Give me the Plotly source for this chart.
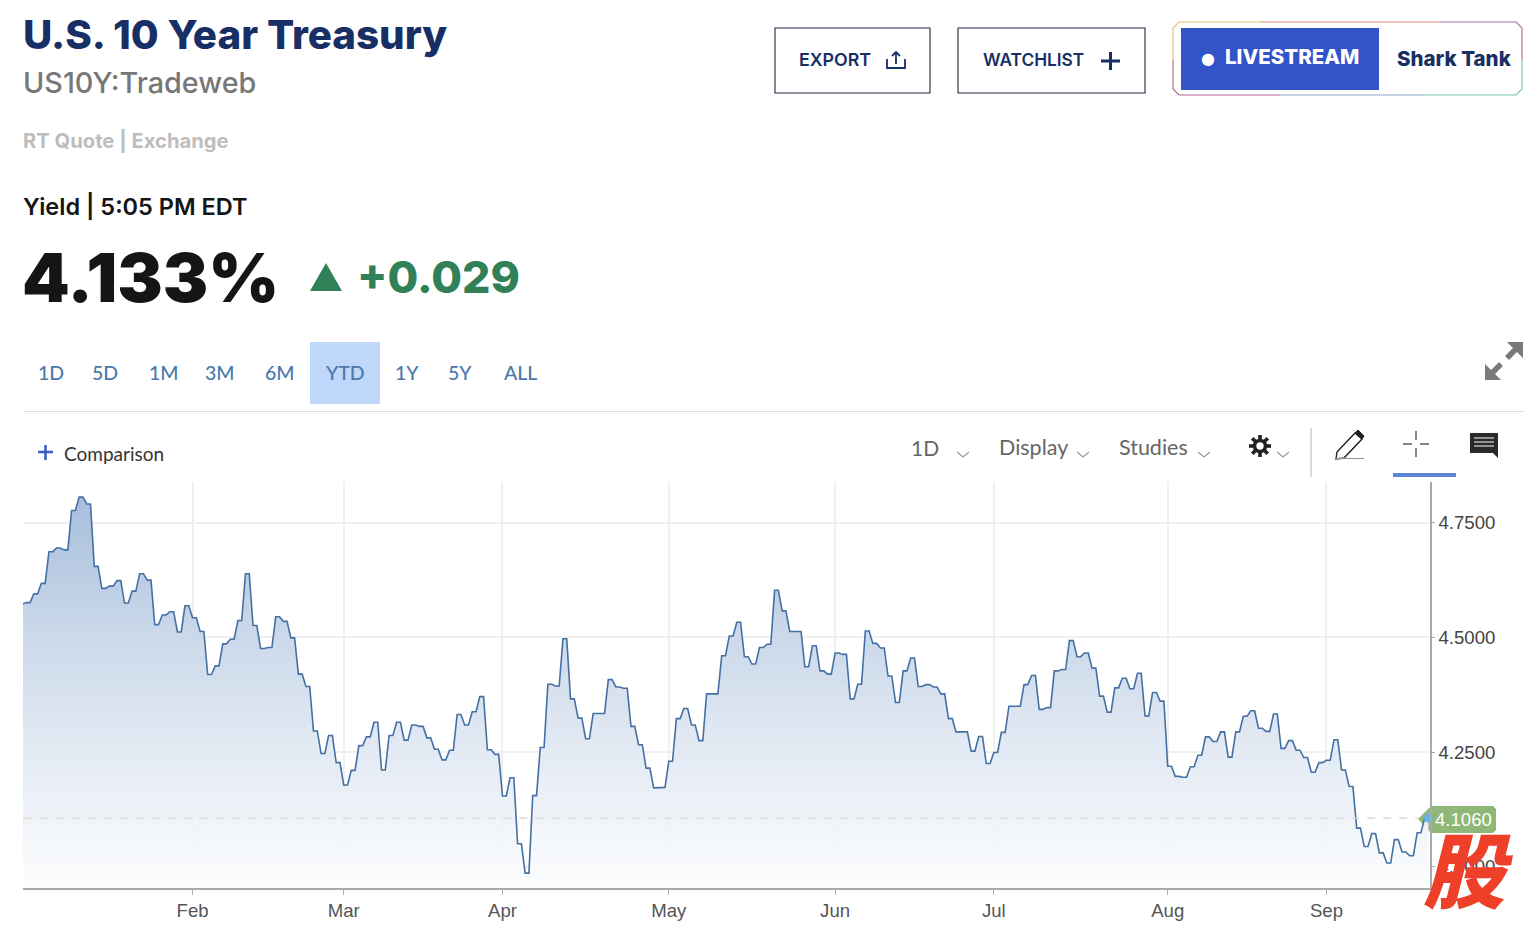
import numpy as np
import plotly.graph_objects as go

W = 1535
H = 928

# daily closes, one per session starting in early January
yield_values = [
    4.573, 4.576, 4.595, 4.618, 4.687, 4.695, 4.691, 4.777, 4.806, 4.791,
    4.655, 4.607, 4.612, 4.624, 4.575, 4.601, 4.639, 4.625, 4.528, 4.549,
    4.556, 4.512, 4.569, 4.543, 4.513, 4.419, 4.438, 4.486, 4.496, 4.537,
    4.639, 4.526, 4.476, 4.478, 4.545, 4.535, 4.499, 4.420, 4.393, 4.296,
    4.247, 4.286, 4.227, 4.178, 4.210, 4.264, 4.283, 4.315, 4.211, 4.286,
    4.315, 4.276, 4.309, 4.306, 4.281, 4.256, 4.233, 4.254, 4.332, 4.309,
    4.338, 4.371, 4.255, 4.245, 4.154, 4.194, 4.050, 3.986, 4.155, 4.260,
    4.398, 4.394, 4.497, 4.366, 4.324, 4.279, 4.334, 4.334, 4.408, 4.392,
    4.389, 4.306, 4.266, 4.215, 4.172, 4.173, 4.230, 4.323, 4.345, 4.309,
    4.275, 4.377, 4.377, 4.460, 4.503, 4.533, 4.458, 4.442, 4.478, 4.485,
    4.603, 4.558, 4.513, 4.513, 4.436, 4.482, 4.427, 4.420, 4.466, 4.463,
    4.366, 4.398, 4.514, 4.487, 4.477, 4.416, 4.358, 4.427, 4.455, 4.393,
    4.397, 4.392, 4.377, 4.323, 4.294, 4.294, 4.252, 4.284, 4.225, 4.249,
    4.293, 4.350, 4.350, 4.397, 4.417, 4.343, 4.347, 4.427, 4.430, 4.493,
    4.458, 4.466, 4.433, 4.372, 4.337, 4.390, 4.411, 4.388, 4.422, 4.329,
    4.380, 4.361, 4.219, 4.197, 4.195, 4.218, 4.243, 4.283, 4.273, 4.294,
    4.239, 4.294, 4.328, 4.340, 4.302, 4.295, 4.333, 4.258, 4.275, 4.254,
    4.238, 4.206, 4.227, 4.232, 4.277, 4.211, 4.175, 4.084, 4.044, 4.072,
    4.030, 4.008, 4.059, 4.032, 4.024, 4.074, 4.106,
]
month_labels = ["Feb", "Mar", "Apr", "May", "Jun", "Jul", "Aug", "Sep"]
month_sessions = [23, 43, 64, 86, 108, 129, 152, 173]
yield_ticks = [4.0, 4.25, 4.5, 4.75]
last_label = "4.1060"
range_tabs = ["1D", "5D", "1M", "3M", "6M", "YTD", "1Y", "5Y", "ALL"]

SANS = "Lato"
HEAD = "Inter"
NAVY = "#182f66"
GREEN = "#318058"


def fx(x):
    return x / W


def fy(y):
    return 1 - y / H


def note(x, y, text, size, color, weight=400, family=SANS, anchor="left", style="normal"):
    return dict(x=fx(x), y=fy(y), xref="paper", yref="paper", text=text, showarrow=False,
                xanchor=anchor, yanchor="middle", borderpad=0,
                font=dict(size=size, color=color, family=family, weight=weight, style=style))


def rect(x0, y0, x1, y1, line=None, fill=None, width=1.1):
    return dict(type="rect", xref="paper", yref="paper", x0=fx(x0), x1=fx(x1), y0=fy(y0), y1=fy(y1),
                line=dict(color=line or "rgba(0,0,0,0)", width=width if line else 0), fillcolor=fill)


def path(points, color=None, width=1.5, fill=None, closed=False):
    d = "M " + " L ".join(f"{fx(x):.5f},{fy(y):.5f}" for x, y in points)
    if closed:
        d += " Z"
    return dict(type="path", xref="paper", yref="paper", path=d,
                line=dict(color=color or "rgba(0,0,0,0)", width=width if color else 0), fillcolor=fill)


def chevron(x, y):
    return path([(x, y), (x + 6, y + 5), (x + 12, y)], "#999999", 1.1)


def gear(cx, cy):
    # settings icon: ring plus eight teeth
    parts = []
    for a in np.arange(8) * np.pi / 4:
        parts.append(path([(cx + 6 * np.cos(a), cy + 6 * np.sin(a)),
                           (cx + 11 * np.cos(a), cy + 11 * np.sin(a))], "#222222", 3.6))
    parts.append(dict(type="circle", xref="paper", yref="paper", x0=fx(cx - 5.5), x1=fx(cx + 5.5),
                      y0=fy(cy + 5.5), y1=fy(cy - 5.5), line=dict(color="#222222", width=3.6),
                      fillcolor="#ffffff"))
    return parts


# each session is drawn with a short flat run, like the source chart
sessions = np.arange(len(yield_values))
line_x = np.repeat(sessions, 2) + np.tile([0, 0.5], len(sessions))
line_y = np.repeat(yield_values, 2)

fig = go.Figure()
fig.add_trace(go.Scatter(x=line_x, y=np.full(len(line_x), 3.9535), mode="lines",
                         line=dict(width=0), hoverinfo="skip", showlegend=False))
fig.add_trace(go.Scatter(
    x=line_x, y=line_y, mode="lines", fill="tonexty", showlegend=False,
    line=dict(color="#4470a3", width=1.6),
    fillgradient=dict(type="vertical", start=4.81, stop=3.9535, colorscale=[
        [0, "rgba(163,187,219,0.96)"], [0.36, "rgba(201,215,233,0.96)"],
        [0.65, "rgba(226,233,243,0.96)"], [1, "rgba(252,253,254,0.96)"]]),
))
fig.add_trace(go.Scatter(x=[line_x[-1]], y=[yield_values[-1]], mode="markers", showlegend=False,
                         marker=dict(color="#67b2ea", size=9), cliponaxis=False))

tag = path([(1418, 819), (1431, 806), (1493, 806), (1496, 809), (1496, 830), (1493, 833), (1431, 833)],
           fill="#8fb878", closed=True)
tag["layer"] = "below"

shapes = [
    # dashed last price line
    dict(type="line", xref="paper", yref="y", x0=fx(23), x1=fx(1418), y0=yield_values[-1], y1=yield_values[-1],
         line=dict(color="#d3d6cc", width=1.3, dash="8px,8px")),
    tag,
    # header buttons
    rect(775, 28, 930, 93, "#1c2740"),
    rect(958, 28, 1145, 93, "#1c2740"),
    path([(1181, 28), (1379, 28), (1379, 90), (1181, 90)], fill="#3353c9", closed=True),
    path([(1173, 60), (1173, 28), (1179, 22), (1260, 22)], "#e3c26d", 1.1),
    path([(1260, 22), (1440, 22)], "#d88a80", 1.1),
    path([(1440, 22), (1516, 22), (1522, 28), (1522, 60)], "#a76a9c", 1.1),
    path([(1173, 60), (1173, 89), (1179, 95), (1280, 95)], "#b0609a", 1.1),
    path([(1280, 95), (1420, 95)], "#8fa0c8", 1.1),
    path([(1420, 95), (1516, 95), (1522, 89), (1522, 60)], "#76c4aa", 1.1),
    # export icon
    path([(887, 59), (887, 68), (905, 68), (905, 59)], NAVY, 1.8),
    path([(896, 64), (896, 52)], NAVY, 1.8),
    path([(892, 56), (896, 52), (900, 56)], NAVY, 1.8),
    # watchlist plus
    path([(1101, 61), (1120, 61)], NAVY, 3),
    path([(1110.5, 52), (1110.5, 70)], NAVY, 3),
    # change arrow
    path([(310, 291), (326, 263), (342, 291)], fill=GREEN, closed=True),
    # range selector
    rect(310, 342, 380, 404, fill="#bfd7fb"),
    path([(23, 411.5), (1523, 411.5)], "#dddddd", 1.2),
    # expand arrows
    path([(1523, 342), (1523, 358), (1517, 352), (1509, 360), (1505, 356), (1513, 348), (1507, 342)],
         fill="#7a7a7a", closed=True),
    path([(1485, 380), (1485, 364), (1491, 370), (1499, 362), (1503, 366), (1495, 374), (1501, 380)],
         fill="#7a7a7a", closed=True),
    # comparison plus
    path([(38, 452), (53, 452)], "#3a60c0", 2.6),
    path([(45.5, 445), (45.5, 460)], "#3a60c0", 2.6),
    # toolbar
    chevron(957, 452), chevron(1077, 452), chevron(1198, 452), chevron(1277, 452),
    *gear(1260, 446),
    path([(1311, 428), (1311, 477)], "#cccccc", 1.4),
    path([(1337, 452), (1355, 433), (1362, 439), (1344, 458), (1336, 459)], "#222222", 1.4, closed=True),
    path([(1355, 433), (1358, 430), (1364, 436), (1362, 439)], "#222222", 1, fill="#222222", closed=True),
    path([(1336, 458.5), (1364, 458.5)], "#999999", 1.2),
    path([(1403, 444), (1412, 444)], "#333333", 1.2),
    path([(1420, 444), (1429, 444)], "#333333", 1.2),
    path([(1416, 431), (1416, 440)], "#333333", 1.2),
    path([(1416, 448), (1416, 457)], "#333333", 1.2),
    rect(1393, 473, 1456, 477, fill="#5b83d6"),
    path([(1470, 433), (1498, 433), (1498, 458), (1493, 453), (1470, 453)], fill="#2a2a2a", closed=True),
    path([(1474, 438), (1494, 438)], "#ffffff", 1),
    path([(1474, 442), (1494, 442)], "#ffffff", 1),
    path([(1474, 446), (1494, 446)], "#ffffff", 1),
]

tab_x = [38, 92, 149, 205, 265, 325, 395, 448, 504]
annotations = [
    note(22, 34, "U.S. 10 Year Treasury", 40.3, NAVY, 800, HEAD),
    note(22, 82, "US10Y:Tradeweb", 28.8, "#777777", 500, HEAD),
    note(22, 140, "RT Quote | Exchange", 20.2, "#bdbdbd", 700, HEAD),
    note(22, 206, "Yield | 5:05 PM EDT", 23.5, "#151515", 600, HEAD),
    note(21, 277, "4.133%", 68, "#151515", 900, HEAD),
    note(356, 277, "+0.029", 44.5, GREEN, 800, HEAD),
    note(798, 59, "EXPORT", 17.8, NAVY, 600, HEAD),
    note(982, 59, "WATCHLIST", 17.3, NAVY, 600, HEAD),
    note(1224, 57, "LIVESTREAM", 20.5, "#ffffff", 800, HEAD),
    note(1396, 58, "Shark Tank", 20.5, NAVY, 800, HEAD),
    note(1200, 58, "●", 16, "#ffffff", family="DejaVu Sans"),
    note(63, 453, "Comparison", 19, "#333333"),
    note(910, 447, "1D", 21, "#666666"),
    note(998, 447, "Display", 21.5, "#666666"),
    note(1118, 447, "Studies", 21.5, "#666666"),
    note(1463, 819.5, last_label, 18.6, "#ffffff", family="Liberation Sans", anchor="center"),
    note(1468, 866, "股", 82, "#ee4028", 900, family="Noto Sans CJK SC", anchor="center", style="italic"),
]
for x, tab in zip(tab_x, range_tabs):
    annotations.append(note(x - 1, 372, tab, 19.5, "#4a78ab", 500))

fig.update_layout(
    width=W, height=H, margin=dict(l=0, r=0, t=0, b=0, autoexpand=False),
    paper_bgcolor="white", plot_bgcolor="white", showlegend=False,
    shapes=shapes, annotations=annotations,
    xaxis=dict(domain=[fx(23), fx(1430)], range=[0.57, 186.7], tickmode="array",
               tickvals=month_sessions, ticktext=month_labels, showgrid=True, gridcolor="#f0f0f0",
               gridwidth=1.5, zeroline=False, showline=True, linecolor="#aaaaaa", linewidth=1.6,
               ticks="outside", ticklen=5, tickcolor="#aaaaaa", tickwidth=1,
               tickfont=dict(family="Liberation Sans", size=18.6, color="#555555")),
    yaxis=dict(domain=[fy(888), fy(482)], range=[3.9535, 4.839], side="right", tickmode="array",
               tickvals=yield_ticks, tickformat=".4f", showgrid=True, gridcolor="#f0f0f0", gridwidth=1.5,
               zeroline=False, showline=True, linecolor="#aaaaaa", linewidth=1.6,
               ticks="outside", ticklen=3, tickcolor="#aaaaaa", tickwidth=1,
               tickfont=dict(family="Liberation Sans", size=18.6, color="#444444")),
)

fig.write_html("out.html", config={"displayModeBar": False}, post_script="document.body.style.margin='0';")
